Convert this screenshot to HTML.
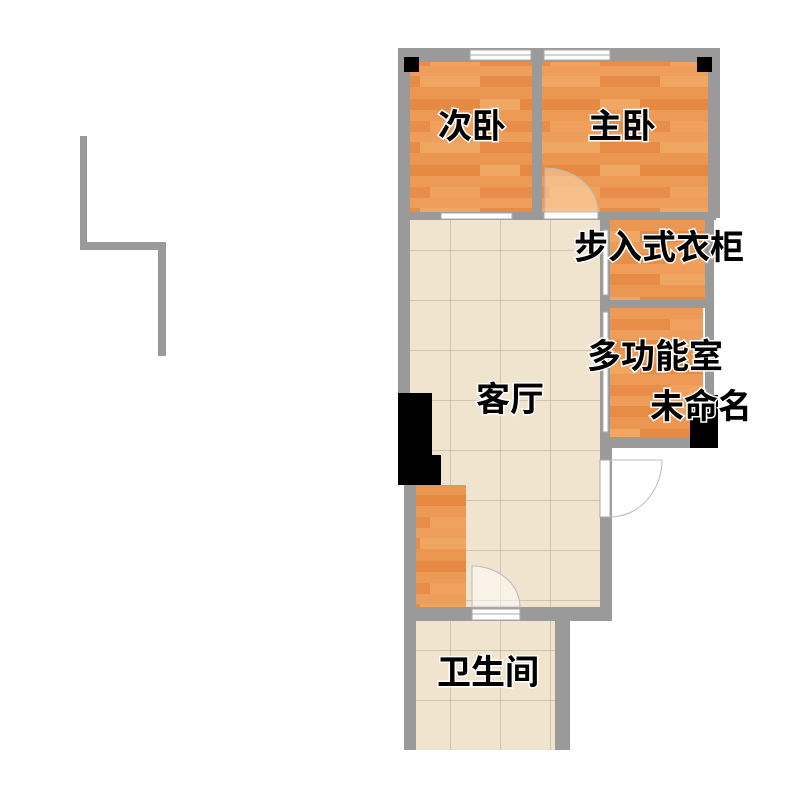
<!DOCTYPE html>
<html><head><meta charset="utf-8"><style>
html,body{margin:0;padding:0;background:#fff;}
svg{display:block}
.l{font-family:"Liberation Sans","Noto Sans CJK SC",sans-serif;font-weight:bold;font-size:34px;fill:#000;stroke:#fff;stroke-width:3px;paint-order:stroke;text-anchor:middle;dominant-baseline:central}
</style></head><body>
<svg width="800" height="800" viewBox="0 0 800 800" xmlns="http://www.w3.org/2000/svg">
<defs>
<pattern id="wood" width="120" height="66" patternUnits="userSpaceOnUse">
<rect width="120" height="66" fill="#ea9350"/>
<rect y="0" width="120" height="10" fill="#ee9d5a"/>
<rect y="10" width="60" height="11" fill="#e78c47"/>
<rect x="60" y="10" width="60" height="11" fill="#f0a663"/>
<rect y="21" width="120" height="12" fill="#eb9752"/>
<rect x="40" y="33" width="80" height="11" fill="#e58943"/>
<rect y="33" width="40" height="11" fill="#f0a764"/>
<rect y="44" width="120" height="11" fill="#ec9a55"/>
<rect y="55" width="70" height="11" fill="#e88e4a"/>
<rect x="70" y="55" width="50" height="11" fill="#efa15d"/>
</pattern>
<pattern id="tile" x="0" y="0" width="50" height="50" patternUnits="userSpaceOnUse">
<rect width="50" height="50" fill="#f0e4cf"/>
<path d="M0 0H50M0 0V50" stroke="#b0a590" stroke-width="1"/>
</pattern>
</defs>

<rect x="80" y="136" width="7" height="114" fill="#9a9a9a"/>
<rect x="80" y="242" width="86" height="8" fill="#9a9a9a"/>
<rect x="158" y="242" width="8" height="114" fill="#9a9a9a"/>

<rect x="410" y="62" width="122" height="150" fill="url(#wood)"/>
<rect x="542" y="62" width="166" height="150" fill="url(#wood)"/>
<rect x="410" y="220" width="190" height="387" fill="url(#tile)"/>
<rect x="610" y="220" width="95" height="80" fill="url(#wood)"/>
<rect x="610" y="308" width="93" height="129" fill="url(#wood)"/>
<rect x="416" y="485" width="50" height="122" fill="url(#wood)"/>
<rect x="416" y="620" width="139" height="130" fill="url(#tile)"/>

<g fill="#9a9a9a">
<rect x="398" y="48" width="322" height="14"/>
<rect x="398" y="48" width="12" height="345"/>
<rect x="708" y="48" width="12" height="170"/>
<rect x="532" y="48" width="10" height="172"/>
<rect x="398" y="212" width="318" height="8"/>
<rect x="600" y="218" width="10" height="230"/>
<rect x="705" y="215" width="9" height="233"/>
<rect x="600" y="300" width="114" height="8"/>
<rect x="600" y="437" width="116" height="11"/>
<rect x="600" y="445" width="12" height="175"/>
<rect x="404" y="485" width="12" height="265"/>
<rect x="404" y="607" width="208" height="14"/>
<rect x="555" y="610" width="15" height="140"/>
</g>

<g fill="#fff" stroke="#aaa" stroke-width="1">
<rect x="470" y="50" width="61" height="10"/>
<rect x="544" y="50" width="66" height="10"/>
<rect x="441" y="213" width="71" height="6"/>
<rect x="603" y="230" width="5" height="65"/>
<rect x="603" y="312" width="5" height="120"/>
<rect x="472" y="609" width="48" height="11"/>
<rect x="544" y="212" width="54" height="7"/>
<rect x="600" y="460" width="10" height="57"/>
</g>
<line x1="470" y1="55" x2="531" y2="55" stroke="#aaa"/>
<line x1="544" y1="55" x2="610" y2="55" stroke="#aaa"/>
<line x1="472" y1="614" x2="520" y2="614" stroke="#aaa"/>

<path d="M545 212V168A53 44 0 0 1 598 212Z" fill="rgba(255,230,200,0.45)" stroke="#bbb" stroke-width="1"/>
<path d="M472 607V566A48 41 0 0 1 520 607Z" fill="rgba(255,255,255,0.5)" stroke="#bbb" stroke-width="1"/>
<path d="M610 460H662A52 57 0 0 1 610 517" fill="none" stroke="#bbb" stroke-width="1"/>

<g fill="#000">
<rect x="404" y="57" width="15" height="15"/>
<rect x="697" y="57" width="15" height="15"/>
<rect x="398" y="393" width="34" height="62"/>
<rect x="398" y="455" width="43" height="30"/>
<rect x="690" y="395" width="28" height="53"/>
</g>

<text class="l" x="472" y="127">次卧</text>
<text class="l" x="622" y="127">主卧</text>
<text class="l" x="659" y="248">步入式衣柜</text>
<text class="l" x="655" y="357">多功能室</text>
<text class="l" x="701" y="407">未命名</text>
<text class="l" x="510" y="400">客厅</text>
<text class="l" x="488" y="673">卫生间</text>
</svg>
</body></html>
